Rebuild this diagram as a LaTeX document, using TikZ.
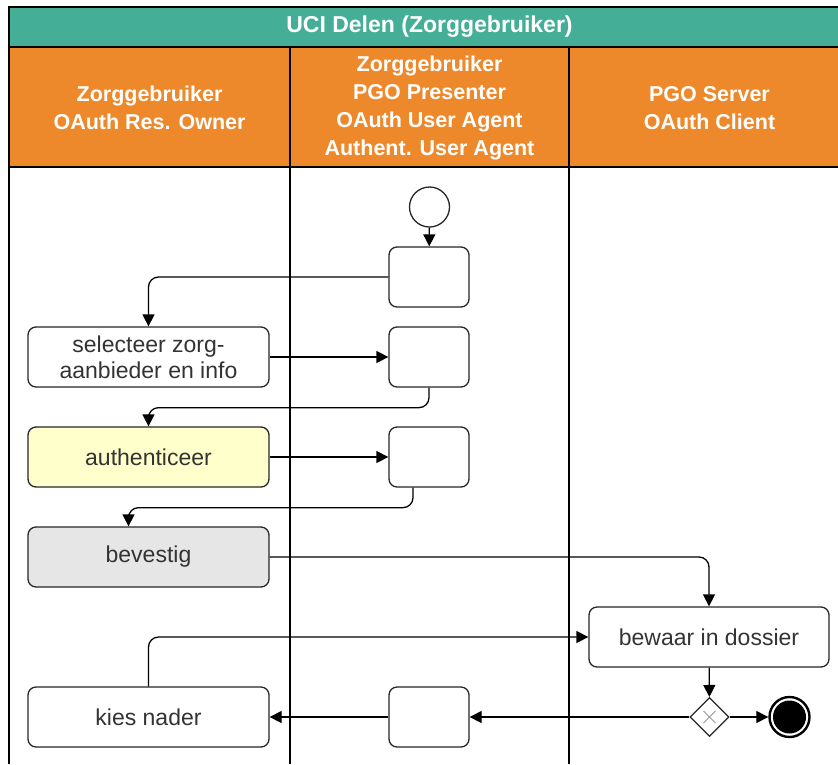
\documentclass[tikz,border=0pt]{standalone}
\usepackage{fontspec}
\setmainfont{Liberation Sans}
\usetikzlibrary{arrows.meta, shapes.geometric}
\definecolor{laneteal}{HTML}{45AE97}
\definecolor{laneorange}{HTML}{EE892B}
\definecolor{actyellow}{HTML}{FFFFCC}
\definecolor{actgray}{HTML}{E6E6E6}
\definecolor{acttext}{HTML}{333333}
\tikzset{
	actbox/.style={draw=black!85, fill=white, rounded corners=8pt, line width=1.3pt,
		align=center, minimum width=241pt, minimum height=60pt, inner sep=0pt,
		text=acttext, font=\fontsize{23}{26}\selectfont},
	stubbox/.style={actbox, minimum width=80pt},
	lanetext/.style={text=white, align=center, font=\bfseries\fontsize{21.5}{28}\selectfont},
	laneline/.style={line width=1.3pt, draw=black},
	flowarr/.style={-{Triangle[length=12pt,width=12pt]}, line width=1.3pt, rounded corners=10pt}
}

\begin{document}
\begin{tikzpicture}[x=1pt, y=-1pt]
	\useasboundingbox (0,0) rectangle (838,764);
	\clip (0,0) rectangle (838,764);
	% pool and lanes
	\fill[laneteal] (9,7) rectangle (850,47);
	\fill[laneorange] (9,47) rectangle (850,167);
	\draw[laneline] (9,764) -- (9,7) -- (850,7);
	\draw[laneline, line width=1.8pt] (9,47) -- (850,47);
	\draw[laneline] (9,167) -- (850,167);
	\draw[laneline] (290,47) -- (290,764);
	\draw[laneline] (569,47) -- (569,764);
	\node[lanetext, font=\bfseries\fontsize{23}{28}\selectfont] (title) at (429.5,27) {UCI Delen (Zorggebruiker)};
	\node[lanetext] (lane1) at (149.5,108) {Zorggebruiker\\OAuth Res. Owner};
	\node[lanetext] (lane2) at (429.5,108) {Zorggebruiker\\PGO Presenter\\OAuth User Agent\\Authent. User Agent};
	\node[lanetext] (lane3) at (709.5,108) {PGO Server\\OAuth Client};

	% activities
	\node[circle, draw=black!85, line width=1.3pt, minimum size=40pt, inner sep=0pt] (start) at (429.5,207) {};
	\node[stubbox] (pa) at (429,277) {};
	\node[actbox] (kies) at (148.5,357) {selecteer zorg-\\aanbieder en info};
	\node[stubbox] (pb) at (429,357) {};
	\node[actbox, fill=actyellow] (auth) at (148.5,457) {authenticeer};
	\node[stubbox] (pc) at (429,457) {};
	\node[actbox, fill=actgray] (best) at (148.5,557) {bevestig};
	\node[actbox, minimum width=240pt] (bewaar) at (709,637) {bewaar in dossier};
	\node[diamond, draw=black!85, fill=white, line width=1.3pt, minimum width=39pt, minimum height=39pt, inner sep=0pt,
		path picture={\draw[black!40, line width=0.8pt]
			([shift={(-6pt,-6pt)}]path picture bounding box.center) -- ([shift={(6pt,6pt)}]path picture bounding box.center)
			([shift={(-6pt,6pt)}]path picture bounding box.center) -- ([shift={(6pt,-6pt)}]path picture bounding box.center);}] (gate) at (709.5,717) {};
	\node[circle, draw=black, line width=2.4pt, minimum size=40pt, inner sep=0pt,
		path picture={\fill (path picture bounding box.center) circle (16.5pt);}] (finish) at (789.5,717) {};
	\node[stubbox] (pd) at (429,717) {};
	\node[actbox] (nader) at (148.5,717) {kies nader};

	% flows
	\draw[flowarr] (start) -- (pa);
	\draw[flowarr] (pa.west) -| (kies.north);
	\draw[flowarr] (kies) -- (pb);
	\draw[flowarr] (pb.south) -- ++(0,20) -| (auth.north);
	\draw[flowarr] (auth) -- (pc);
	\draw[flowarr] ([xshift=-16pt]pc.south) -- ++(0,20) -| ([xshift=-20pt]best.north);
	\draw[flowarr] (best.east) -| (bewaar.north);
	\draw[flowarr] (nader.north) |- (bewaar.west);
	\draw[flowarr] (bewaar) -- (gate);
	\draw[flowarr] (gate) -- (finish);
	\draw[flowarr] (gate) -- (pd);
	\draw[flowarr] (pd) -- (nader);
\end{tikzpicture}
\end{document}
